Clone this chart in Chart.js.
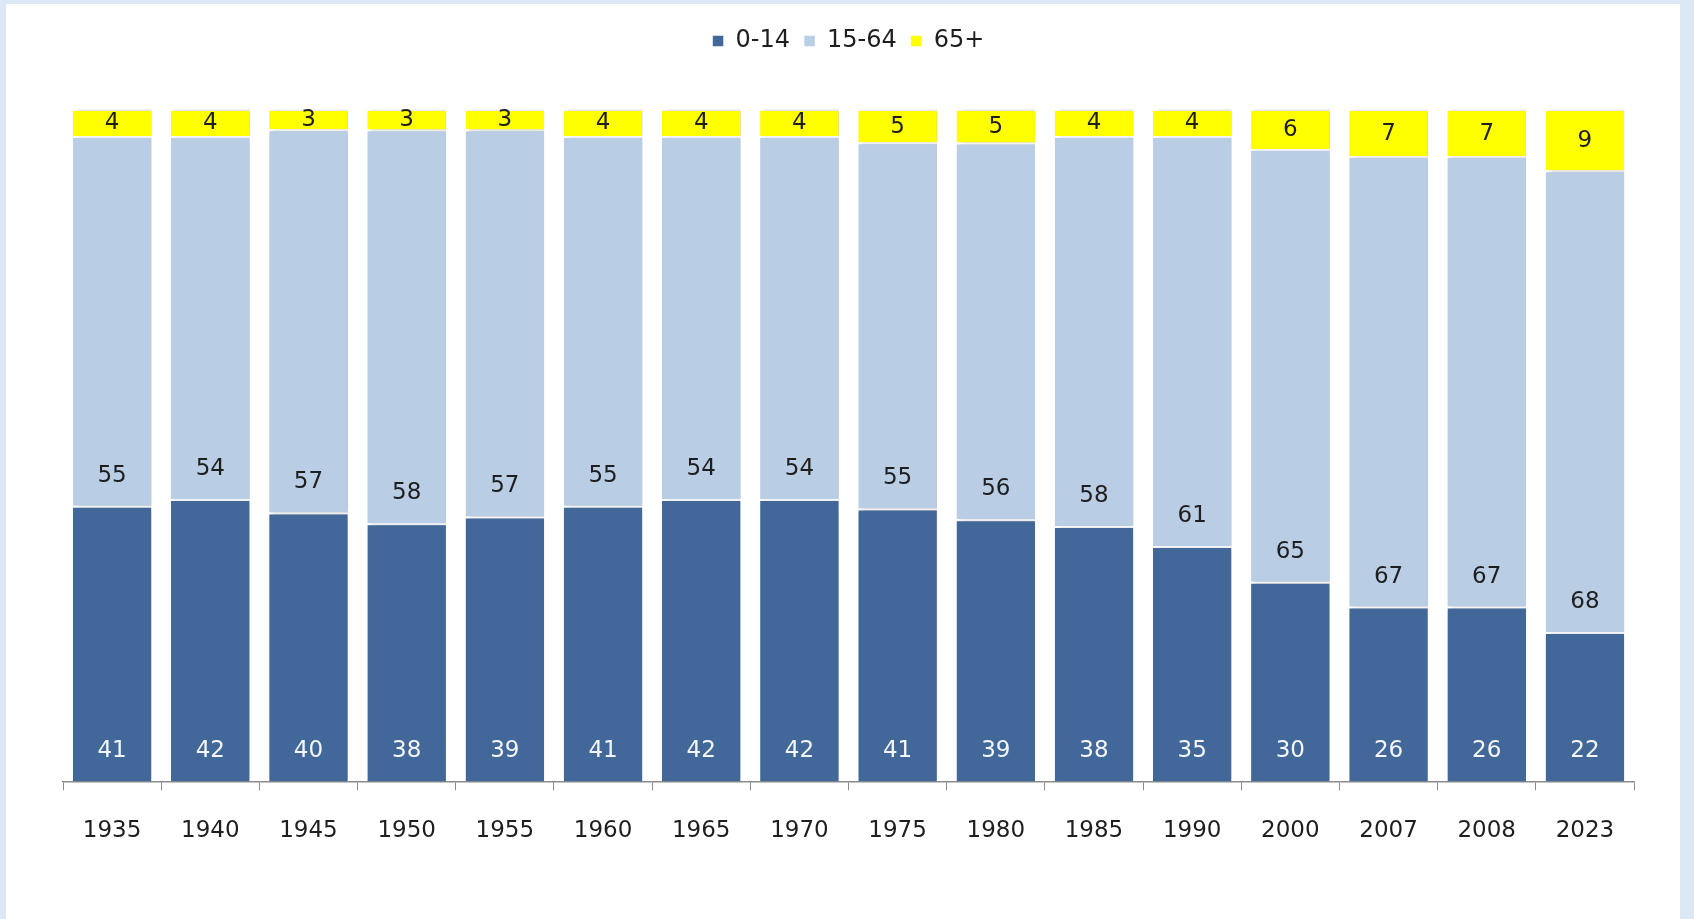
<!DOCTYPE html>
<html>
<head>
<meta charset="utf-8">
<script src="https://cdn.jsdelivr.net/npm/chart.js@4/dist/chart.umd.min.js"></script>
<style>
  html, body { margin: 0; padding: 0; background: #dde8f7; overflow: hidden; }
  #panel { position: absolute; left: 6px; top: 4px; width: 1674px; height: 915px; background: #fff; }
</style>
</head>
<body>
<div id="panel"><canvas id="chart"></canvas></div>
<script>
// Yıllar ve yaş grupları (%)
const years = ['1935', '1940', '1945', '1950', '1955', '1960', '1965', '1970', '1975', '1980', '1985', '1990', '2000', '2007', '2008', '2023'];
const age0to14 = [41, 42, 40, 38, 39, 41, 42, 42, 41, 39, 38, 35, 30, 26, 26, 22];
const age15to64 = [55, 54, 57, 58, 57, 55, 54, 54, 55, 56, 58, 61, 65, 67, 67, 68];
const age65plus = [4, 4, 3, 3, 3, 4, 4, 4, 5, 5, 4, 4, 6, 7, 7, 9];

const FONT = "'DejaVu Sans', Verdana, sans-serif";

// %100 yığılmış sütun: her yılı toplamına göre oranla
const totals = years.map((_, i) => age0to14[i] + age15to64[i] + age65plus[i]);
const share = arr => arr.map((v, i) => v / totals[i] * 100);

// Sütunlara sağ tarafta gölge
const shadowPlugin = {
    id: 'barShadow',
    beforeDatasetDraw(chart) {
        const ctx = chart.ctx;
        ctx.save();
        ctx.shadowColor = 'rgba(0,0,0,0.35)';
        ctx.shadowBlur = 5;
        ctx.shadowOffsetX = 3;
        ctx.shadowOffsetY = 1;
    },
    afterDatasetDraw(chart) {
        chart.ctx.restore();
    }
};

// Lejant ile grafik arasında boşluk
const legendGap = {
    id: 'legendGap',
    beforeLayout(chart) {
        const lg = chart.legend;
        if (!lg || lg._gapPatched) return;
        const fit = lg.fit;
        lg.fit = function () {
            fit.call(this);
            this.height += 46;
        };
        lg._gapPatched = true;
    }
};

// Değer etiketleri
const valueLabels = {
    id: 'valueLabels',
    afterDatasetsDraw(chart) {
        const ctx = chart.ctx;
        ctx.save();
        ctx.font = '23px ' + FONT;
        ctx.textAlign = 'center';
        ctx.textBaseline = 'middle';
        chart.data.datasets.forEach((ds, di) => {
            const meta = chart.getDatasetMeta(di);
            meta.data.forEach((bar, i) => {
                const txt = String(ds.raw[i]);
                let y;
                if (di === 0) {
                    ctx.fillStyle = '#f4f6fa';
                    y = bar.base - 30;
                } else if (di === 1) {
                    ctx.fillStyle = '#1e1e1e';
                    y = bar.base - 30;
                } else {
                    ctx.fillStyle = '#1e1e1e';
                    y = (bar.y + bar.base) / 2 + 1;
                }
                ctx.fillText(txt, bar.x, y);
            });
        });
        ctx.restore();
    }
};

new Chart(document.getElementById('chart'), {
    type: 'bar',
    data: {
        labels: years,
        datasets: [
            { label: '0-14', raw: age0to14, data: share(age0to14), backgroundColor: '#416899' },
            { label: '15-64', raw: age15to64, data: share(age15to64), backgroundColor: '#b9cde5' },
            { label: '65+', raw: age65plus, data: share(age65plus), backgroundColor: '#ffff00' }
        ].map(ds => Object.assign(ds, {
            borderColor: '#ffffff',
            borderWidth: { top: 2, bottom: 0, left: 0, right: 0 },
            borderSkipped: false,
            barPercentage: 0.8,
            categoryPercentage: 1.0
        }))
    },
    options: {
        responsive: true,
        maintainAspectRatio: false,
        animation: false,
        layout: { padding: { left: 57, right: 46, top: 11, bottom: 47 } },
        plugins: {
            tooltip: { enabled: false },
            legend: {
                position: 'top',
                labels: {
                    font: { family: FONT, size: 24 },
                    color: '#1e1e1e',
                    boxWidth: 11,
                    boxHeight: 11,
                    padding: 14
                }
            }
        },
        scales: {
            x: {
                stacked: true,
                grid: {
                    display: true,
                    offset: true,
                    drawOnChartArea: false,
                    drawTicks: true,
                    tickLength: 9,
                    color: '#8c8c8c'
                },
                border: { display: true, color: '#8c8c8c', width: 1.5 },
                ticks: {
                    font: { family: FONT, size: 23 },
                    color: '#1e1e1e',
                    padding: 27,
                    maxRotation: 0
                }
            },
            y: {
                stacked: true,
                min: 0,
                max: 100,
                display: false
            }
        }
    },
    plugins: [shadowPlugin, legendGap, valueLabels]
});
</script>
</body>
</html>
